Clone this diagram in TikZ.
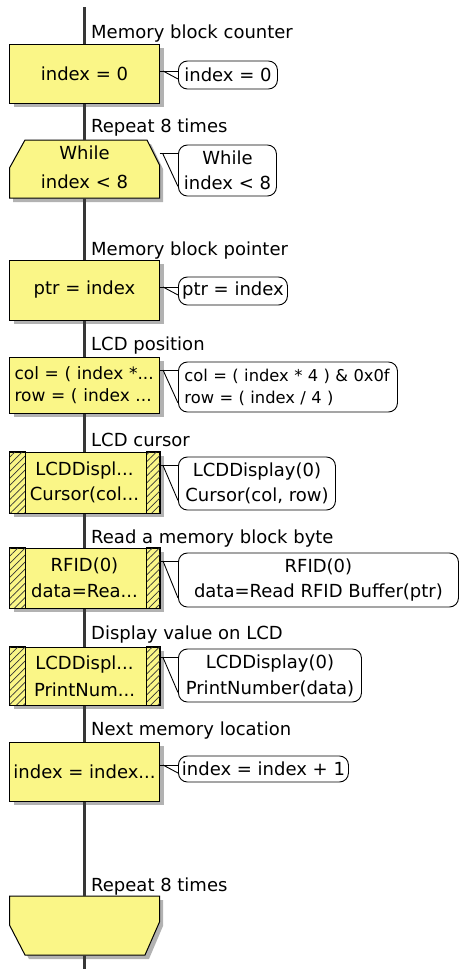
\documentclass[tikz,border=0pt]{standalone}
\usepackage{fontspec}
\setmainfont{DejaVu Sans}
\usetikzlibrary{patterns.meta,shadows,calc}
\definecolor{boxyellow}{RGB}{250,246,135}
\definecolor{spinecol}{RGB}{55,55,55}
\begin{document}
\begin{tikzpicture}[x=1pt,y=-1pt,
  every node/.style={font=\fontsize{18}{25}\selectfont, inner sep=0pt},
  box/.style={draw=black, line width=1pt, fill=boxyellow, minimum width=150pt, align=center,
    drop shadow={shadow xshift=4pt, shadow yshift=-4pt, fill=black!30, opacity=1}},
  bubble/.style={draw=black, line width=0.9pt, fill=white, rounded corners=9pt, align=center, anchor=west},
  lbl/.style={anchor=base west},
  spine/.style={draw=spinecol, line width=2.2pt},
  tail/.style={draw=black, line width=0.9pt},
  hatch/.style={draw=black, line width=1pt, pattern={Lines[angle=45,distance=5pt,line width=0.7pt]}, pattern color=black!80},
  loopshape/.style={draw=black, line width=1pt, fill=boxyellow},
  shadowfill/.style={fill=black!30}
]
\useasboundingbox (0,0) rectangle (459,969);

% --- spine end points
\coordinate (top) at (84.5,7);
\coordinate (bot) at (84.5,969);
\coordinate (whtop) at (84.5,140);
\coordinate (whbot) at (84.5,198);
\coordinate (wetop) at (84.5,896);
\coordinate (webot) at (84.5,955);

% --- labels
\node[lbl] (l1) at (91,38) {Memory block counter};
\node[lbl] (l2) at (91,132) {Repeat 8 times};
\node[lbl] (l3) at (91,255) {Memory block pointer};
\node[lbl] (l4) at (91,350) {LCD position};
\node[lbl] (l5) at (91,446) {LCD cursor};
\node[lbl] (l6) at (91,543) {Read a memory block byte};
\node[lbl] (l7) at (91,639) {Display value on LCD};
\node[lbl] (l8) at (91,735) {Next memory location};
\node[lbl] (l9) at (91,891) {Repeat 8 times};

% --- boxes
\node[box, minimum height=59pt] (b1) at (84.5,73.5) {index = 0};

\fill[shadowfill] (29,144) -- (151,144) -- (163,169) -- (163,202) -- (13,202) -- (13,172) -- cycle;
\draw[loopshape] (25,140) -- (147,140) -- (159.5,165) -- (159.5,198) -- (9.5,198) -- (9.5,168) -- cycle;
\node[minimum width=150pt, minimum height=58pt, align=center, font=\fontsize{18}{29}\selectfont] (wh) at (84.5,167) {While\\index < 8};

\node[box, minimum height=60pt] (b3) at (84.5,290) {ptr = index};
\node[box, minimum height=56pt, text width=140pt, inner xsep=5pt, align=left, font=\fontsize{17}{22}\selectfont] (b4) at (84.5,385) {\mbox{col = ( index *...}\\\mbox{row = ( index ...}};
\node[box, minimum height=61pt] (b5) at (84.5,482.5) {LCDDispl...\\Cursor(col...};
\node[box, minimum height=60pt, font=\fontsize{18}{26}\selectfont] (b6) at (84.5,578) {RFID(0)\\data=Rea...};
\node[box, minimum height=58pt, font=\fontsize{18}{27}\selectfont] (b7) at (84.5,676) {LCDDispl...\\PrintNum...};
\node[box, minimum height=59pt] (b8) at (84.5,771.5) {index = index...};

\fill[shadowfill] (13,900) -- (163,900) -- (163,926) -- (149,959) -- (29,959) -- (13,929) -- cycle;
\draw[loopshape] (9.5,896) -- (159.5,896) -- (159.5,922) -- (145,955) -- (25,955) -- (9.5,925) -- cycle;

% hatched side strips of the macro-call boxes
\foreach \b in {b5,b6,b7}{
  \draw[hatch] (\b.north west) rectangle ($(\b.south west)+(16,0)$);
  \draw[hatch] ($(\b.north east)+(-14,0)$) rectangle (\b.south east);
}

% --- spine
\draw[spine] (top) -- (b1.north);
\draw[spine] (b1.south) -- (whtop);
\draw[spine] (whbot) -- (b3.north);
\draw[spine] (b3.south) -- (b4.north);
\draw[spine] (b4.south) -- (b5.north);
\draw[spine] (b5.south) -- (b6.north);
\draw[spine] (b6.south) -- (b7.north);
\draw[spine] (b7.south) -- (b8.north);
\draw[spine] (b8.south) -- (wetop);
\draw[spine] (webot) -- (bot);

% --- comment bubbles
\node[bubble, minimum width=99pt, minimum height=28pt] (c1) at (178,75) {index = 0};
\node[bubble, minimum width=98pt, minimum height=51pt] (c2) at (178,170.5) {While\\index < 8};
\node[bubble, minimum width=109pt, minimum height=28pt] (c3) at (178,291) {ptr = index};
\node[bubble, minimum height=50pt, text width=207pt, inner xsep=6pt, align=left, font=\fontsize{16.3}{22}\selectfont] (c4) at (178,387) {\mbox{col = ( index * 4 ) \& 0x0f}\\\mbox{row = ( index / 4 )}};
\node[bubble, minimum width=157pt, minimum height=53pt] (c5) at (178,483.5) {LCDDisplay(0)\\Cursor(col, row)};
\node[bubble, minimum width=280pt, minimum height=54pt] (c6) at (178,580) {RFID(0)\\data=Read RFID Buffer(ptr)};
\node[bubble, minimum width=183pt, minimum height=53pt, font=\fontsize{18}{26}\selectfont] (c7) at (178,675.5) {LCDDisplay(0)\\PrintNumber(data)};
\node[bubble, minimum width=170pt, minimum height=26pt] (c8) at (178,769) {index = index + 1};

% --- callout tails
\foreach \b/\c/\u/\v in {b1/c1/-4/4, wh/c2/-17/16, b3/c3/-4/4, b4/c4/-17/16, b5/c5/-18/17, b6/c6/-19/18, b7/c7/-18/17, b8/c8/-4/4}{
  \draw[tail] ($(\b.east |- \c.west)+(0,\u)$) -- ($(\c.west)+(0,\u)$);
  \draw[tail] ($(\b.east |- \c.west)+(3,\u)$) -- ($(\c.west)+(0,\v)$);
}
\end{tikzpicture}
\end{document}
